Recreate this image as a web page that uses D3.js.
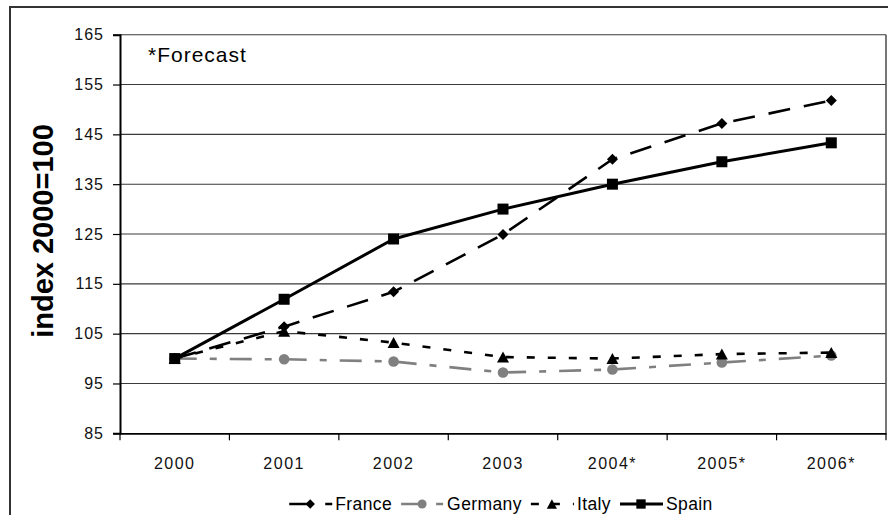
<!DOCTYPE html>
<html>
<head>
<meta charset="utf-8">
<script src="https://cdn.jsdelivr.net/npm/d3@7"></script>
<style>
  html, body { margin: 0; padding: 0; background: #fff; }
  svg { display: block; font-family: "Liberation Sans", Arial, sans-serif; }
</style>
</head>
<body>
<svg id="chart" width="888" height="515"></svg>
<script>
const years = ["2000", "2001", "2002", "2003", "2004*", "2005*", "2006*"];
const france  = [100, 106.4, 113.4, 124.9, 140.0, 147.2, 151.8];
const germany = [100, 99.85, 99.4, 97.2, 97.8, 99.2, 100.6];
const italy   = [100, 105.5, 103.2, 100.3, 100.0, 100.9, 101.2];
const spain   = [100, 111.9, 124.0, 130.0, 135.0, 139.5, 143.3];
const yTicks  = [85, 95, 105, 115, 125, 135, 145, 155, 165];
const seriesNames = ["France", "Germany", "Italy", "Spain"];
const yTitle = "index 2000=100";
const note = "*Forecast";

const series = [
  { name: seriesNames[0], values: france,  color: "#000", dash: "22,14", width: 2.6, marker: "diamond" },
  { name: seriesNames[1], values: germany, color: "#808080", dash: "22,13,7,13", width: 2.6, marker: "circle" },
  { name: seriesNames[2], values: italy,   color: "#000", dash: "8,13", width: 2.6, marker: "triangle" },
  { name: seriesNames[3], values: spain,   color: "#000", dash: null, width: 3, marker: "square" }
];

const svg = d3.select("#chart");
const L = 120, R = 886, T = 34.7, B = 433.3;

const x = d3.scaleBand().domain(years).range([L, R]).paddingInner(0).paddingOuter(0);
const y = d3.scaleLinear().domain([85, 165]).range([B, T]);
const cx = d => x(d) + x.bandwidth() / 2;

// outer border
svg.append("rect").attr("x", 10).attr("y", 7).attr("width", 900).attr("height", 530)
  .attr("fill", "none").attr("stroke", "#333").attr("stroke-width", 2);

// gridlines
svg.append("g").selectAll("line").data(yTicks.filter(t => t > 85)).join("line")
  .attr("x1", L).attr("x2", R).attr("y1", d => y(d)).attr("y2", d => y(d))
  .attr("stroke", "#3a3a3a").attr("stroke-width", 1.1);

// plot right border
svg.append("line").attr("x1", R).attr("x2", R).attr("y1", T).attr("y2", B)
  .attr("stroke", "#555").attr("stroke-width", 1.6);

// Y axis
const yAxis = d3.axisLeft(y).tickValues(yTicks).tickSize(7).tickPadding(9);
const gy = svg.append("g").attr("transform", `translate(${L},0)`).call(yAxis);
gy.select(".domain").attr("stroke", "#000").attr("stroke-width", 2);
gy.selectAll(".tick line").attr("stroke", "#000").attr("stroke-width", 1.2);
gy.selectAll(".tick text").attr("font-size", 16).attr("fill", "#111")
  .attr("font-family", "Liberation Sans, Arial, sans-serif").style("letter-spacing", "1px");

// X axis
const xAxis = d3.axisBottom(x).tickSize(0).tickPadding(0);
const gx = svg.append("g").attr("transform", `translate(0,${B})`).call(xAxis);
gx.select(".domain").attr("stroke", "#000").attr("stroke-width", 1.8);
gx.selectAll(".tick text").attr("font-size", 16).attr("fill", "#111").attr("dy", 0).attr("y", 36)
  .attr("font-family", "Liberation Sans, Arial, sans-serif").style("letter-spacing", "1.5px");
// band-boundary ticks
const bounds = years.map(d => x(d)).concat([R]);
svg.append("g").selectAll("line").data(bounds).join("line")
  .attr("x1", d => d).attr("x2", d => d).attr("y1", B).attr("y2", B + 7)
  .attr("stroke", "#000").attr("stroke-width", 1.2);

// y title
svg.append("text").attr("transform", `translate(53,231) rotate(-90)`)
  .attr("text-anchor", "middle").attr("font-size", 29).attr("font-weight", "bold")
  .attr("fill", "#000").text(yTitle);

// note
svg.append("text").attr("x", 148).attr("y", 62).attr("font-size", 21)
  .style("letter-spacing", "1px").attr("fill", "#000").text(note);

function markerPath(type) {
  if (type === "diamond") return "M0,-5.5L5.5,0L0,5.5L-5.5,0Z";
  if (type === "square") return "M-5.5,-5.5H5.5V5.5H-5.5Z";
  if (type === "triangle") return "M0,-5.5L6,5.5L-6,5.5Z";
  return d3.symbol().type(d3.symbolCircle).size(Math.PI * 5.3 * 5.3)();
}

const line = d3.line().x((d, i) => cx(years[i])).y(d => y(d));

series.forEach(s => {
  svg.append("path").datum(s.values).attr("d", line)
    .attr("fill", "none").attr("stroke", s.color).attr("stroke-width", s.width)
    .attr("stroke-dasharray", s.dash).attr("stroke-linejoin", "round");
  svg.append("g").selectAll("path").data(s.values).join("path")
    .attr("transform", (d, i) => `translate(${cx(years[i])},${y(d)})`)
    .attr("d", markerPath(s.marker)).attr("fill", s.color);
});

// legend
const legY = 504;
const lg = svg.append("g");
let lx = 290;
series.forEach(s => {
  const g = lg.append("g");
  g.append("line").attr("x1", lx).attr("x2", lx + 43).attr("y1", legY).attr("y2", legY)
    .attr("stroke", s.color).attr("stroke-width", s.width).attr("stroke-dasharray", s.dash);
  g.append("path").attr("transform", `translate(${lx + 21},${legY})`)
    .attr("d", markerPath(s.marker)).attr("fill", s.color)
    .attr("transform", `translate(${lx + 21},${legY}) scale(0.85)`);
  const t = g.append("text").attr("x", lx + 46).attr("y", legY + 6).attr("font-size", 17.5)
    .style("letter-spacing", "0.4px").attr("fill", "#000").text(s.name);
  lx = lx + 46 + t.node().getComputedTextLength() + 9;
});
// centre legend
const bb = lg.node().getBBox();
lg.attr("transform", `translate(${501 - (bb.x + bb.width / 2)},0)`);
</script>
</body>
</html>
